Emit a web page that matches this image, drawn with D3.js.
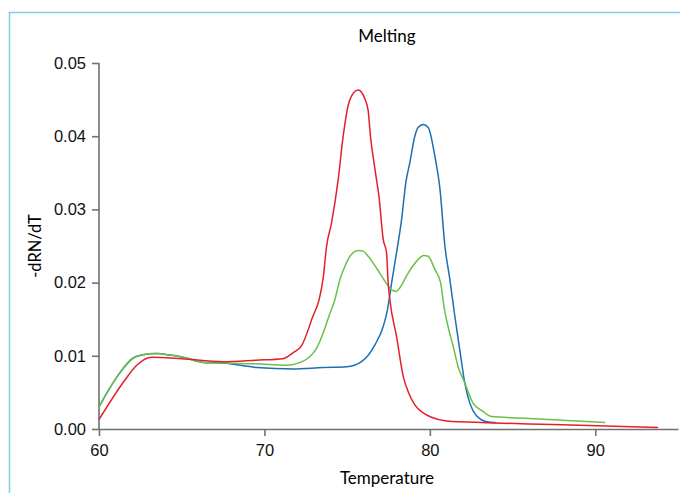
<!DOCTYPE html>
<html>
<head>
<meta charset="utf-8">
<script src="https://cdn.jsdelivr.net/npm/d3@7"></script>
<style>
  body { margin: 0; background: #fff; }
  svg { font-family: Lato, "Noto Sans", sans-serif; }
</style>
</head>
<body>
<svg id="chart"></svg>
<script>
// Melt curves, [temperature, -dRN/dT]
const redCurve = [
  [60.0, 0.0013], [61.57, 0.0067], [62.28, 0.0087], [63.18, 0.0098], [65.0, 0.0096],
  [67.49, 0.0092], [69.5, 0.0094], [71.12, 0.0096], [71.72, 0.0104], [72.25, 0.0114],
  [72.93, 0.0154], [73.31, 0.0177], [73.55, 0.0206], [73.76, 0.0250], [74.06, 0.0282],
  [74.46, 0.0341], [74.76, 0.0400], [75.06, 0.0442], [75.27, 0.0455], [75.67, 0.0463],
  [75.87, 0.0460], [76.07, 0.0451], [76.27, 0.0435], [76.41, 0.0400], [76.68, 0.0355],
  [76.94, 0.0314], [77.18, 0.0259], [77.38, 0.0241], [77.48, 0.0200], [77.58, 0.0177],
  [77.99, 0.0126], [78.39, 0.0072], [78.69, 0.0051], [79.09, 0.0033], [79.6, 0.0022],
  [80.1, 0.0016], [81.0, 0.0011], [83.43, 0.00086], [87.43, 0.0006], [93.8, 0.0002]
];
const blueCurve = [
  [60.0, 0.0030], [60.47, 0.0049], [61.17, 0.0074], [62.07, 0.0097], [62.58, 0.0101],
  [63.49, 0.0103], [64.29, 0.0101], [65.09, 0.0098], [66.3, 0.0091], [67.51, 0.0090],
  [69.53, 0.0084], [71.74, 0.0082], [73.55, 0.0084], [74.97, 0.0085], [75.87, 0.0092],
  [76.68, 0.0115], [77.18, 0.0140], [77.44, 0.0163], [77.69, 0.0200], [77.95, 0.0236],
  [78.29, 0.0286], [78.55, 0.0337], [78.79, 0.0364], [79.09, 0.0400], [79.29, 0.0412],
  [79.6, 0.0416], [79.9, 0.0412], [80.3, 0.0373], [80.6, 0.0330], [80.91, 0.0250],
  [81.21, 0.0204], [81.51, 0.0154], [81.81, 0.0108], [82.11, 0.0063], [82.42, 0.0035],
  [82.82, 0.0018], [83.43, 0.0010], [84.03, 0.00086]
];
const greenCurve = [
  [60.0, 0.0030], [60.47, 0.0049], [61.17, 0.0074], [62.07, 0.0097], [62.58, 0.0101],
  [63.49, 0.0103], [64.29, 0.0101], [65.09, 0.0098], [66.3, 0.0091], [67.51, 0.0090],
  [69.53, 0.0089], [71.34, 0.0087], [72.04, 0.0090], [72.65, 0.0097], [73.15, 0.0110],
  [73.66, 0.0138], [73.96, 0.0158], [74.26, 0.0177], [74.56, 0.0204], [74.86, 0.0222],
  [75.17, 0.0236], [75.67, 0.0244], [75.97, 0.0243], [76.27, 0.0236], [76.77, 0.0220],
  [77.28, 0.0202], [77.68, 0.0190], [77.98, 0.0188], [78.19, 0.0193], [78.69, 0.0213],
  [79.19, 0.0229], [79.64, 0.0237], [79.9, 0.0236], [80.3, 0.0218], [80.65, 0.0200],
  [80.85, 0.0168], [81.1, 0.0140], [81.41, 0.0113], [81.71, 0.0085], [82.11, 0.0063],
  [82.62, 0.0035], [83.22, 0.0024], [83.73, 0.0017], [85.44, 0.0015], [90.6, 0.0009]
];
const series = [
  { name: "blue", color: "#1a6fb5", values: blueCurve },
  { name: "green", color: "#6cbf4a", values: greenCurve },
  { name: "red", color: "#e3202a", values: redCurve }
];
const xTicks = [60, 70, 80, 90];
const yTicks = [0, 0.01, 0.02, 0.03, 0.04, 0.05];

const width = 680, height = 493;
const svg = d3.select("#chart").attr("width", width).attr("height", height);

// light blue frame around the figure
svg.append("rect")
  .attr("x", 9.5).attr("y", 12.5)
  .attr("width", 700).attr("height", 500)
  .attr("fill", "none")
  .attr("stroke", "#7fcde6")
  .attr("stroke-width", 1.5);

const x = d3.scaleLinear().domain([60, 95]).range([99, 678]);
const y = d3.scaleLinear().domain([0, 0.05]).range([429, 63]);

const axisColor = "#707070";

const xAxis = svg.append("g")
  .attr("transform", "translate(0,429)")
  .call(d3.axisBottom(x).tickValues(xTicks).tickSize(7).tickSizeOuter(0).tickPadding(8));
const yAxis = svg.append("g")
  .attr("transform", "translate(99,0)")
  .call(d3.axisLeft(y).tickValues(yTicks).tickSize(7).tickSizeOuter(0).tickPadding(6)
    .tickFormat(d3.format(".2f")));

[xAxis, yAxis].forEach(a => {
  a.select(".domain").attr("stroke", axisColor).attr("stroke-width", 1.6);
  a.selectAll(".tick line").attr("stroke", axisColor).attr("stroke-width", 1.6);
  a.selectAll(".tick text").attr("fill", "#111").style("font-size", "16.5px");
});
// y axis line reaches up to the top tick
yAxis.select(".domain").attr("d", `M0,${y(0)}V${y(0.05)}`);

const line = d3.line()
  .x(d => x(d[0]))
  .y(d => y(d[1]))
  .curve(d3.curveMonotoneX);

svg.append("g").selectAll("path")
  .data(series)
  .join("path")
  .attr("d", d => line(d.values))
  .attr("fill", "none")
  .attr("stroke", d => d.color)
  .attr("stroke-width", 1.5);

svg.append("text")
  .attr("x", 387).attr("y", 42)
  .attr("text-anchor", "middle")
  .style("font-size", "17px")
  .text("Melting");

svg.append("text")
  .attr("x", 387).attr("y", 484)
  .attr("text-anchor", "middle")
  .style("font-size", "17px")
  .text("Temperature");

svg.append("text")
  .attr("transform", "translate(41,246) rotate(-90)")
  .attr("text-anchor", "middle")
  .style("font-size", "16.5px")
  .text("-dRN/dT");
</script>
</body>
</html>
